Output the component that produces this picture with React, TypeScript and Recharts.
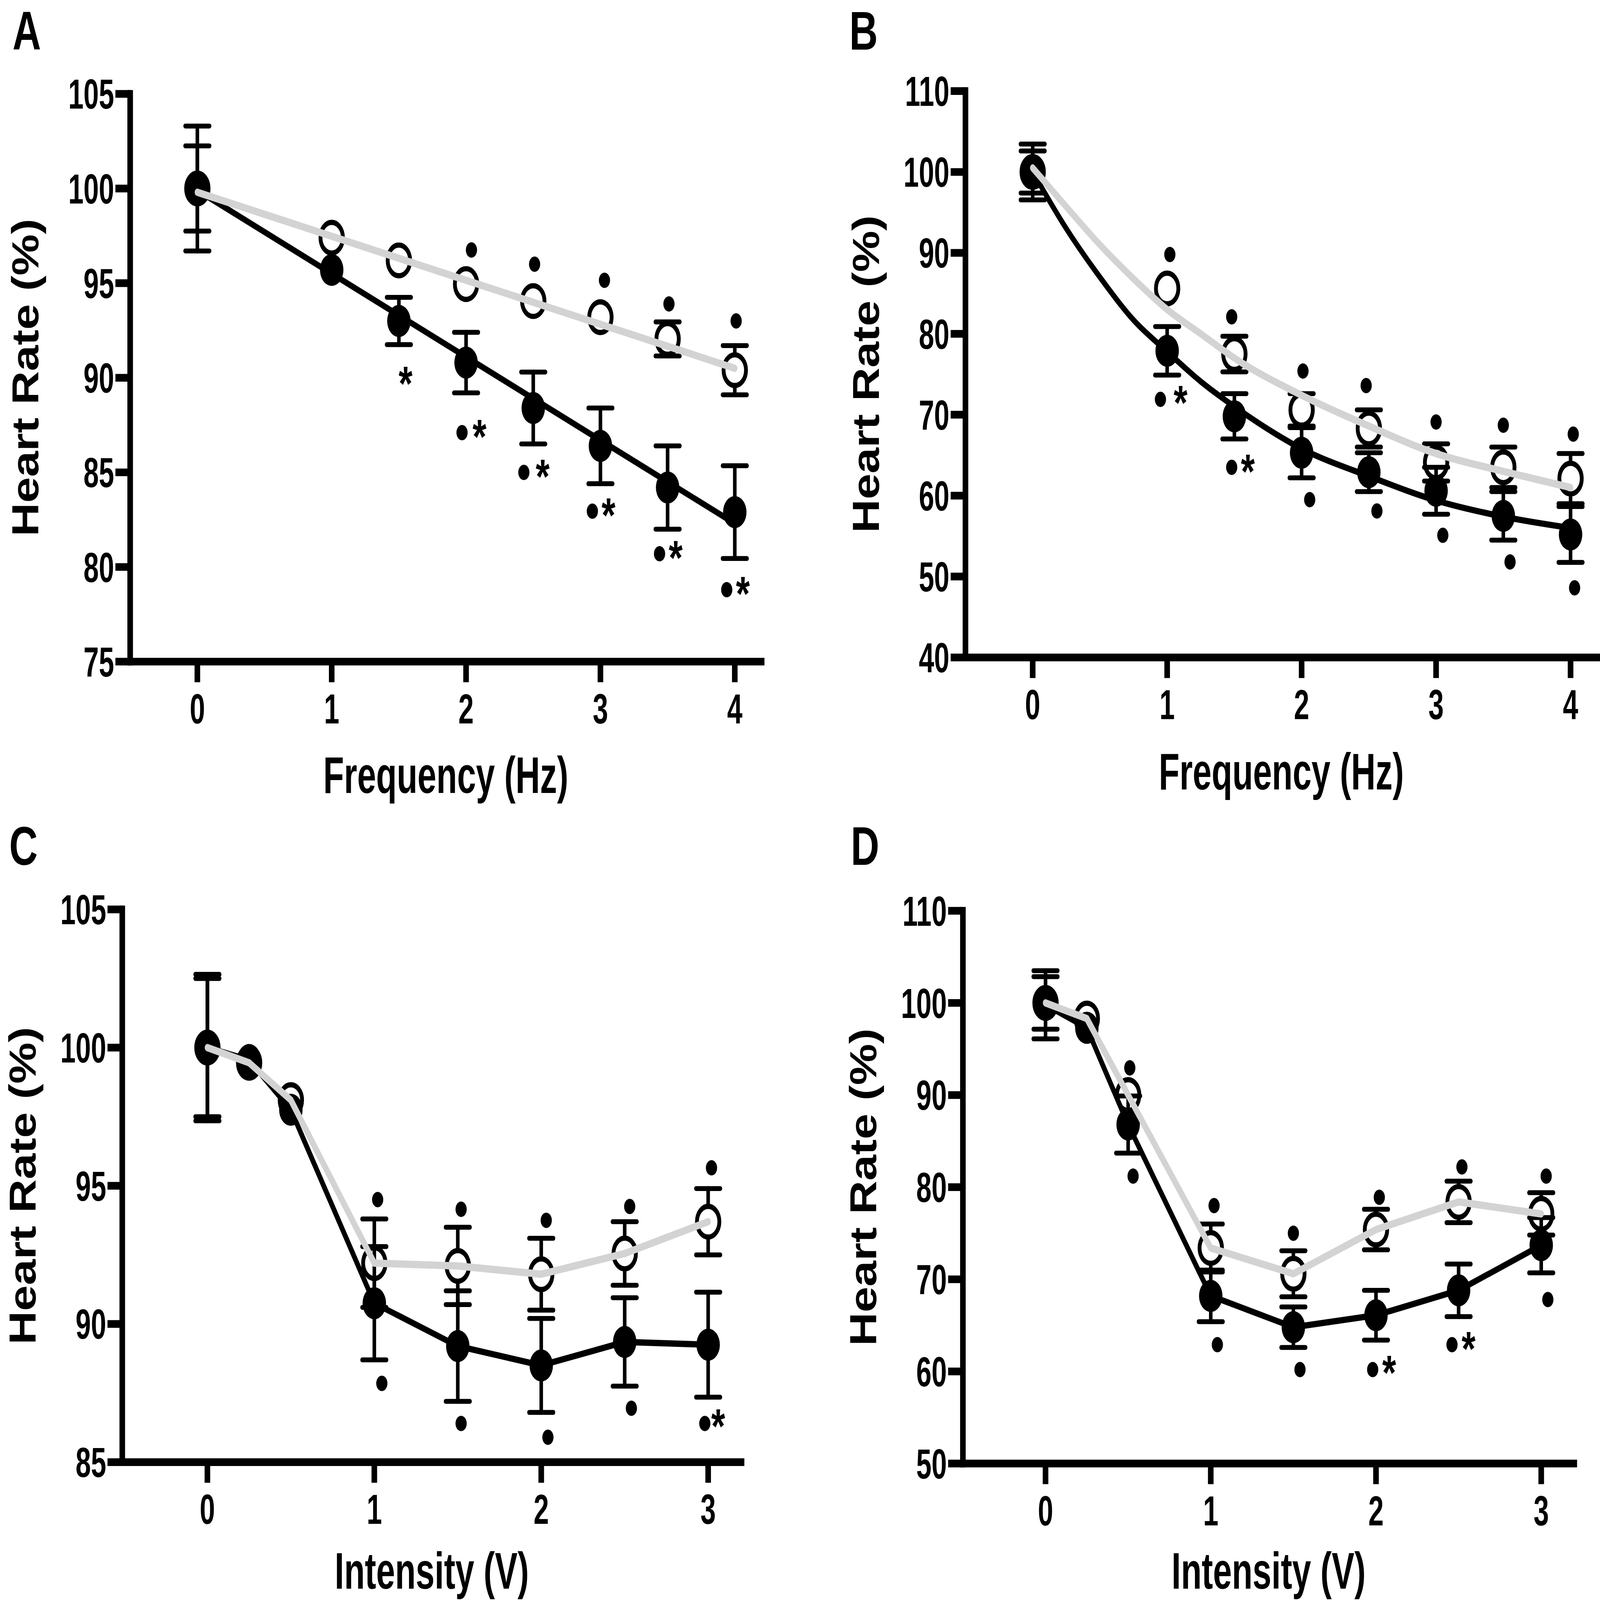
import { ComposedChart, Scatter, Line, XAxis, YAxis, ErrorBar } from 'recharts';

const FONT = "'Liberation Sans', Arial, Helvetica, sans-serif";
const FIG_W = 6281;
const FIG_H = 4585;

// ---- A: frequency, % heart rate ----
const freqA = [0, 1, 1.5, 2, 2.5, 3, 3.5, 4];
const blackA = [100.0, 95.7, 93.0, 90.8, 88.4, 86.4, 84.2, 82.9];
const blackErrA = [3.3, 0, 1.25, 1.6, 1.9, 2.0, 2.2, 2.45];
const whiteA = [100.0, 97.4, 96.2, 94.95, 94.05, 93.2, 92.05, 90.4];
const whiteErrA = [2.25, 0, 0, 0, 0, 0, 0.9, 1.3];
const fitFreqA = [0, 4];
const blackFitA = [99.9, 82.3];
const grayFitA = [99.8, 90.5];
const aboveXA = [2.04, 2.51, 3.03, 3.51, 4.01];
const aboveYA = [96.75, 96.0, 95.15, 93.9, 93.0];
const belowXA = [1.97, 2.43, 2.94, 3.44, 3.94];
const belowYA = [87.1, 85.0, 82.95, 80.7, 78.8];
const starXA = [1.55, 2.1, 2.57, 3.06, 3.56, 4.06];
const starYA = [89.9, 87.1, 85.0, 82.95, 80.7, 78.8];
const ticksXA = [0, 1, 2, 3, 4];
const ticksYA = [75, 80, 85, 90, 95, 100, 105];

// ---- B ----
const freqB = [0, 1, 1.5, 2, 2.5, 3, 3.5, 4];
const blackB = [100.0, 77.9, 69.8, 65.3, 62.9, 60.6, 57.5, 55.2];
const blackErrB = [3.45, 3.0, 2.8, 3.1, 2.4, 2.9, 3.0, 3.45];
const whiteB = [100.0, 85.6, 77.5, 70.6, 68.3, 64.1, 63.5, 62.1];
const whiteErrB = [2.6, 0, 2.2, 2.0, 2.3, 2.3, 2.5, 3.1];
const curveFreqB = [0, 0.25, 0.5, 0.75, 1, 1.25, 1.5, 2, 2.5, 3, 3.5, 4];
const blackCurveB = [100.0, 93.0, 87.0, 81.7, 77.8, 74.1, 71.0, 65.8, 62.4, 59.4, 57.4, 56.0];
const grayCurveB = [100.5, 95.7, 91.0, 86.8, 83.0, 80.0, 77.0, 72.4, 68.6, 65.2, 63.0, 61.0];
const aboveXB = [1.02, 1.48, 2.01, 2.48, 3.0, 3.5, 4.02];
const aboveYB = [89.8, 82.1, 75.4, 73.6, 69.1, 68.7, 67.6];
const belowXB = [0.95, 1.48, 2.06, 2.56, 3.05, 3.55, 4.03];
const belowYB = [71.9, 63.5, 59.5, 58.1, 55.1, 51.8, 48.6];
const starXB = [1.1, 1.6];
const starYB = [72.0, 63.5];
const ticksXB = [0, 1, 2, 3, 4];
const ticksYB = [40, 50, 60, 70, 80, 90, 100, 110];

// ---- C: intensity ----
const intC = [0, 0.25, 0.5, 1, 1.5, 2, 2.5, 3];
const blackC = [100.0, 99.55, 97.75, 90.75, 89.2, 88.5, 89.35, 89.25];
const blackErrC = [2.65, 0, 0, 2.05, 2.0, 1.7, 1.6, 1.9];
const whiteC = [100.0, 99.45, 98.1, 92.2, 92.1, 91.8, 92.55, 93.7];
const whiteErrC = [2.5, 0, 0, 1.6, 1.4, 1.3, 1.15, 1.2];
const aboveXC = [1.02, 1.52, 2.03, 2.53, 3.02];
const aboveYC = [94.5, 94.15, 93.75, 94.25, 95.65];
const belowXC = [1.045, 1.52, 2.04, 2.54, 2.98];
const belowYC = [87.85, 86.4, 85.9, 86.95, 86.4];
const starXC = [3.06];
const starYC = [86.45];
const ticksXC = [0, 1, 2, 3];
const ticksYC = [85, 90, 95, 100, 105];

// ---- D ----
const intD = [0, 0.25, 0.5, 1, 1.5, 2, 2.5, 3];
const blackD = [99.8, 97.3, 86.8, 68.2, 64.8, 66.1, 68.8, 73.7];
const blackErrD = [3.7, 0, 3.1, 2.8, 2.2, 2.7, 2.85, 3.0];
const whiteD = [100.0, 98.3, 90.0, 73.4, 70.6, 75.4, 78.4, 77.1];
const whiteErrD = [2.85, 0, 0, 2.6, 2.5, 2.2, 2.25, 2.3];
const aboveXD = [0.51, 1.02, 1.5, 2.02, 2.52, 3.03];
const aboveYD = [92.95, 78.0, 75.0, 78.9, 82.2, 81.2];
const belowXD = [0.53, 1.04, 1.54, 1.98, 2.46, 3.04];
const belowYD = [81.2, 62.9, 60.2, 60.2, 62.9, 67.8];
const starXD = [2.08, 2.56];
const starYD = [60.3, 62.9];
const ticksXD = [0, 1, 2, 3];
const ticksYD = [50, 60, 70, 80, 90, 100, 110];

type Row = { x: number; y: number; err: number };

const rows = (xs: number[], ys: number[], errs?: number[]): Row[] =>
  xs.map((x, i) => ({ x, y: ys[i], err: errs ? errs[i] : 0 }));

const AXIS = { stroke: '#000', strokeWidth: 22, strokeLinecap: 'square' as const };
const TICK = { stroke: '#000', strokeWidth: 22 };

function NarrowTick(props: any) {
  const { x, y, payload, axis } = props;
  const isY = axis === 'y';
  return (
    <g transform={`translate(${x},${y}) scale(0.9,1)`}>
      <text
        x={0}
        y={0}
        dy={isY ? '0.355em' : '0.716em'}
        textAnchor={isY ? 'end' : 'middle'}
        fontSize={120}
        fontWeight="bold"
        fontFamily={FONT}
        fill="#000"
      >
        {payload.value}
      </text>
    </g>
  );
}

// recharts clones this with its own label props (angle, position...), so use other names
function AxisTitle(props: any) {
  const { tx, ty, rot = 0, title } = props;
  return (
    <g transform={`translate(${tx},${ty}) rotate(${rot}) scale(0.9,1)`}>
      <text x={0} y={0} textAnchor="middle" fontSize={148} fontWeight="bold" fontFamily={FONT} fill="#000">
        {title}
      </text>
    </g>
  );
}

const BlackDot = (p: any) => <circle cx={p.cx} cy={p.cy} r={46} fill="#000" />;
const OpenDot = (p: any) => <circle cx={p.cx} cy={p.cy} r={44} fill="#fff" stroke="#000" strokeWidth={15} />;
const SmallDot = (p: any) => <circle cx={p.cx} cy={p.cy} r={22} fill="#000" />;
const Star = (p: any) => (
  <text x={p.cx} y={p.cy + 60} textAnchor="middle" fontSize={140} fontWeight="bold" fontFamily={FONT} fill="#000">
    *
  </text>
);

interface PanelProps {
  box: [number, number, number, number];
  plot: { left: number; right: number; top: number; bottom: number };
  xDomain: [number, number];
  yDomain: [number, number];
  xTicks: number[];
  yTicks: number[];
  xTitle: string;
  xTitleAt: [number, number];
  yTitleAt: [number, number];
  black: Row[];
  white: Row[];
  blackLine: Row[];
  grayLine: Row[];
  lineType: 'linear' | 'monotone';
  above: Row[];
  below: Row[];
  stars: Row[];
}

function Panel(p: PanelProps) {
  const [x0, y0, w, h] = p.box;
  return (
    <div style={{ position: 'absolute', left: x0, top: y0 }}>
      <ComposedChart
        width={w}
        height={h}
        margin={{ top: p.plot.top, right: w - p.plot.right, bottom: 0, left: 0 }}
      >
        <XAxis
          type="number"
          dataKey="x"
          domain={p.xDomain}
          ticks={p.xTicks}
          interval={0}
          allowDataOverflow
          axisLine={AXIS}
          tickLine={TICK}
          tickSize={59}
          tickMargin={32}
          tick={<NarrowTick axis="x" />}
          height={h - p.plot.bottom}
          label={<AxisTitle tx={p.xTitleAt[0]} ty={p.xTitleAt[1]} title={p.xTitle} />}
        />
        <YAxis
          type="number"
          dataKey="y"
          domain={p.yDomain}
          ticks={p.yTicks}
          interval={0}
          allowDataOverflow
          axisLine={AXIS}
          tickLine={TICK}
          tickSize={58}
          tickMargin={5}
          tick={<NarrowTick axis="y" />}
          width={p.plot.left}
          label={<AxisTitle tx={p.yTitleAt[0]} ty={p.yTitleAt[1]} rot={-90} title="Heart Rate (%)" />}
        />
        <Scatter data={p.white} shape={OpenDot} isAnimationActive={false} zIndex={500}>
          <ErrorBar dataKey="err" direction="y" width={48} stroke="#000" strokeWidth={14} strokeLinecap="round" isAnimationActive={false} zIndex={499} />
        </Scatter>
        <Scatter data={p.black} shape={() => null} isAnimationActive={false} zIndex={502}>
          <ErrorBar dataKey="err" direction="y" width={48} stroke="#000" strokeWidth={14} strokeLinecap="round" isAnimationActive={false} zIndex={501} />
        </Scatter>
        <Line
          data={p.blackLine}
          dataKey="y"
          type={p.lineType}
          stroke="#000"
          strokeWidth={18}
          strokeLinecap="round"
          strokeLinejoin="round"
          dot={false}
          activeDot={false}
          isAnimationActive={false}
          zIndex={503}
        />
        <Scatter data={p.black} shape={BlackDot} isAnimationActive={false} zIndex={504} />
        <Line
          data={p.grayLine}
          dataKey="y"
          type={p.lineType}
          stroke="#d3d3d3"
          strokeWidth={21}
          strokeLinecap="round"
          strokeLinejoin="round"
          dot={false}
          activeDot={false}
          isAnimationActive={false}
          zIndex={505}
        />
        <Scatter data={p.above} shape={SmallDot} isAnimationActive={false} zIndex={506} />
        <Scatter data={p.below} shape={SmallDot} isAnimationActive={false} zIndex={506} />
        <Scatter data={p.stars} shape={Star} isAnimationActive={false} zIndex={506} />
      </ComposedChart>
    </div>
  );
}

const LETTER = { fontSize: 155, fontWeight: 'bold' as const, fontFamily: FONT, fill: '#000' };

// the browser window may be smaller than the figure; fit the figure to it
function viewportScale(): [number, number] {
  if (typeof window === 'undefined') return [1, 1];
  document.documentElement.style.overflow = 'hidden';
  const vw = window.innerWidth || FIG_W;
  const vh = window.innerHeight || FIG_H;
  return [Math.min(1, vw / FIG_W), Math.min(1, vh / FIG_H)];
}

export default function App() {
  const [sx, sy] = viewportScale();
  return (
    <div
      style={{
        position: 'absolute',
        left: 0,
        top: 0,
        width: FIG_W,
        height: FIG_H,
        background: '#fff',
        overflow: 'hidden',
        transform: `scale(${sx}, ${sy})`,
        transformOrigin: '0 0',
      }}
    >
      <Panel
        box={[0, 0, 3140, 2340]}
        plot={{ left: 511, right: 2990, top: 269, bottom: 1896 }}
        xDomain={[-0.5, 4.2]}
        yDomain={[75, 105]}
        xTicks={ticksXA}
        yTicks={ticksYA}
        xTitle="Frequency (Hz)"
        xTitleAt={[1750, 2272]}
        yTitleAt={[150, 1082]}
        black={rows(freqA, blackA, blackErrA)}
        white={rows(freqA, whiteA, whiteErrA)}
        blackLine={rows(fitFreqA, blackFitA)}
        grayLine={rows(fitFreqA, grayFitA)}
        lineType="linear"
        above={rows(aboveXA, aboveYA)}
        below={rows(belowXA, belowYA)}
        stars={rows(starXA, starYA)}
      />
      <Panel
        box={[3140, 0, 3141, 2340]}
        plot={{ left: 650, right: 3131, top: 261, bottom: 1884 }}
        xDomain={[-0.5, 4.2]}
        yDomain={[40, 110]}
        xTicks={ticksXB}
        yTicks={ticksYB}
        xTitle="Frequency (Hz)"
        xTitleAt={[1890, 2262]}
        yTitleAt={[310, 1072]}
        black={rows(freqB, blackB, blackErrB)}
        white={rows(freqB, whiteB, whiteErrB)}
        blackLine={rows(curveFreqB, blackCurveB)}
        grayLine={rows(curveFreqB, grayCurveB)}
        lineType="monotone"
        above={rows(aboveXB, aboveYB)}
        below={rows(belowXB, belowYB)}
        stars={rows(starXB, starYB)}
      />
      <Panel
        box={[0, 2300, 3140, 2285]}
        plot={{ left: 480, right: 2911, top: 306, bottom: 1890 }}
        xDomain={[-0.51, 3.2]}
        yDomain={[85, 105]}
        xTicks={ticksXC}
        yTicks={ticksYC}
        xTitle="Intensity (V)"
        xTitleAt={[1695, 2252]}
        yTitleAt={[140, 1098]}
        black={rows(intC, blackC, blackErrC)}
        white={rows(intC, whiteC, whiteErrC)}
        blackLine={rows(intC, blackC)}
        grayLine={rows(intC, whiteC)}
        lineType="linear"
        above={rows(aboveXC, aboveYC)}
        below={rows(belowXC, belowYC)}
        stars={rows(starXC, starYC)}
      />
      <Panel
        box={[3140, 2300, 3141, 2285]}
        plot={{ left: 640, right: 3040, top: 310, bottom: 1894 }}
        xDomain={[-0.5, 3.2]}
        yDomain={[50, 110]}
        xTicks={ticksXD}
        yTicks={ticksYD}
        xTitle="Intensity (V)"
        xTitleAt={[1840, 2252]}
        yTitleAt={[300, 1102]}
        black={rows(intD, blackD, blackErrD)}
        white={rows(intD, whiteD, whiteErrD)}
        blackLine={rows(intD, blackD)}
        grayLine={rows(intD, whiteD)}
        lineType="linear"
        above={rows(aboveXD, aboveYD)}
        below={rows(belowXD, belowYD)}
        stars={rows(starXD, starYD)}
      />
      <svg width={FIG_W} height={FIG_H} style={{ position: 'absolute', left: 0, top: 0, pointerEvents: 'none' }}>
        <text x={49} y={142} {...LETTER}>A</text>
        <text x={3334} y={142} {...LETTER}>B</text>
        <text x={36} y={2478} {...LETTER}>C</text>
        <text x={3340} y={2478} {...LETTER}>D</text>
      </svg>
    </div>
  );
}
